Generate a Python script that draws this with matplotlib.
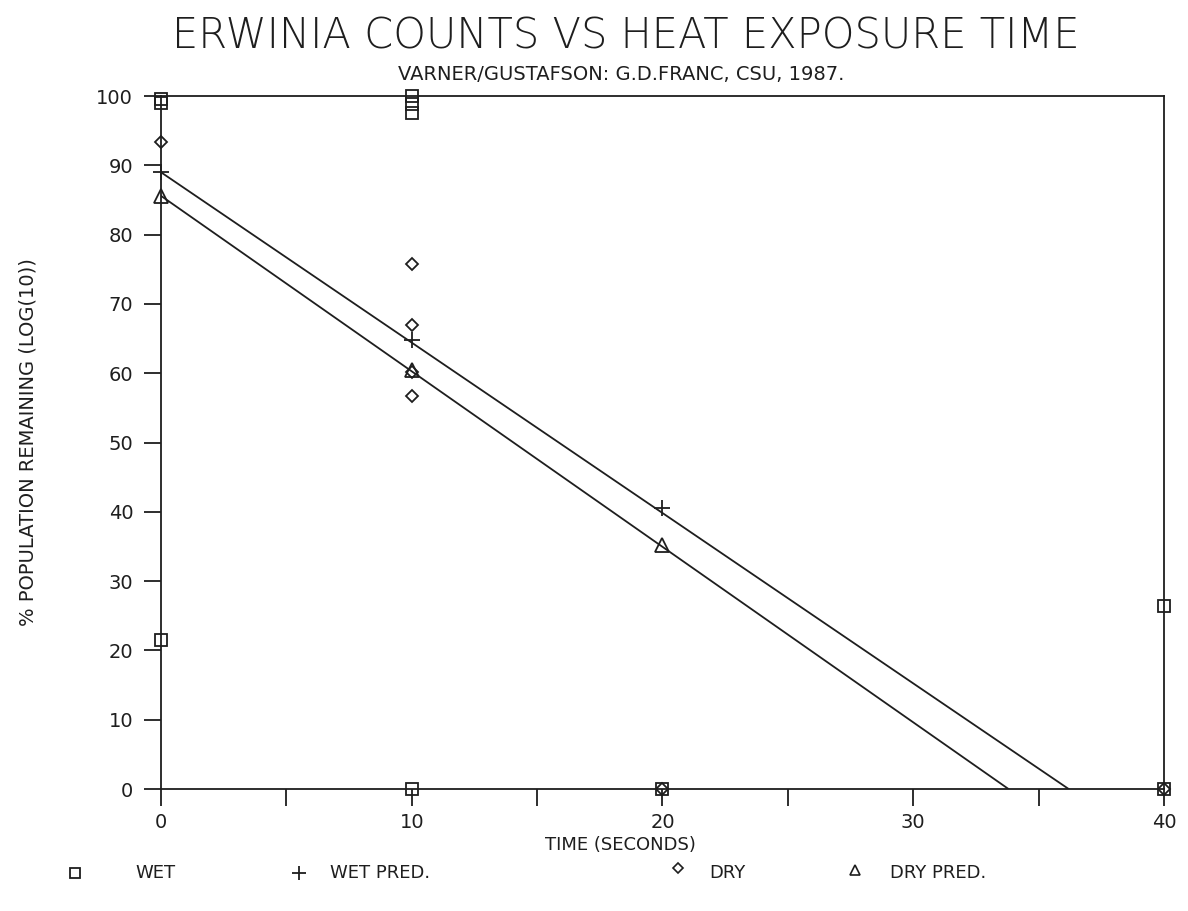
import matplotlib
matplotlib.use('Agg')
import matplotlib.pyplot as plt

# data
wet_x = [0, 0, 0, 10, 10, 10, 10, 20, 40, 40]
wet_y = [99.0, 99.6, 21.5, 100.0, 98.8, 97.6, 0, 0, 26.4, 0]

wet_pred_x = [0, 10, 20]
wet_pred_y = [89.0, 64.8, 40.5]

dry_x = [0, 10, 10, 10, 10, 20, 40]
dry_y = [93.4, 75.8, 67.0, 60.2, 56.7, 0, 0]

dry_pred_x = [0, 10, 20]
dry_pred_y = [85.6, 60.5, 35.2]

# fitted lines, end where they reach zero
wet_line_x = [0, 36.2]
wet_line_y = [89.0, 0]
dry_line_x = [0, 33.8]
dry_line_y = [85.6, 0]

x_ticks = [0, 10, 20, 30, 40]
x_minor = [5, 15, 25, 35]
y_ticks = [0, 10, 20, 30, 40, 50, 60, 70, 80, 90, 100]

ink = '#1e1e1e'

fig = plt.figure(figsize=(11.88, 9.11), dpi=100)
ax = fig.add_axes([0.1355, 0.1339, 0.8443, 0.7607])

ax.plot(wet_line_x, wet_line_y, color=ink, lw=1.3)
ax.plot(dry_line_x, dry_line_y, color=ink, lw=1.3)

ax.plot(wet_x, wet_y, ls='none', marker='s', ms=9, mfc='none', mec=ink, mew=1.3, clip_on=False)
ax.plot(wet_pred_x, wet_pred_y, ls='none', marker='+', ms=12, mec=ink, mew=1.3, clip_on=False)
ax.plot(dry_x, dry_y, ls='none', marker='D', ms=6.5, mfc='none', mec=ink, mew=1.3, clip_on=False)
ax.plot(dry_pred_x, dry_pred_y, ls='none', marker='^', ms=10, mfc='none', mec=ink, mew=1.3, clip_on=False)

ax.set_xlim(0, 40)
ax.set_ylim(0, 100)
ax.set_xticks(x_ticks)
ax.set_xticks(x_minor, minor=True)
ax.set_yticks(y_ticks)
ax.tick_params(axis='both', direction='out', length=12, width=1.3, color=ink,
               labelsize=14, labelcolor=ink)
ax.tick_params(axis='x', which='minor', direction='out', length=12, width=1.3, color=ink)
ax.tick_params(axis='x', pad=5)
ax.tick_params(axis='y', pad=8)
for s in ax.spines.values():
    s.set_color(ink)
    s.set_linewidth(1.3)

ax.set_ylabel('% POPULATION REMAINING (LOG(10))', fontsize=14, color=ink, labelpad=42)
fig.text(0.522, 0.072, 'TIME (SECONDS)', fontsize=13, color=ink, ha='center', va='center')

fig.text(0.527, 0.961, 'ERWINIA COUNTS VS HEAT EXPOSURE TIME', fontsize=30, fontweight='light',
         color=ink, ha='center', va='center')
fig.text(0.523, 0.918, 'VARNER/GUSTAFSON: G.D.FRANC, CSU, 1987.', fontsize=14,
         color=ink, ha='center', va='center')

# legend row along the bottom
leg_y = 0.042
fig.lines.append(plt.Line2D([0.063], [leg_y], transform=fig.transFigure, ls='none', marker='s',
                            ms=7, mfc='none', mec=ink, mew=1.3))
fig.text(0.114, leg_y, 'WET', fontsize=13, color=ink, va='center')
fig.lines.append(plt.Line2D([0.252], [leg_y], transform=fig.transFigure, ls='none', marker='+',
                            ms=10, mec=ink, mew=1.3))
fig.text(0.278, leg_y, 'WET PRED.', fontsize=13, color=ink, va='center')
fig.lines.append(plt.Line2D([0.571], [leg_y + 0.005], transform=fig.transFigure, ls='none', marker='D',
                            ms=5.5, mfc='none', mec=ink, mew=1.2))
fig.text(0.597, leg_y, 'DRY', fontsize=13, color=ink, va='center')
fig.lines.append(plt.Line2D([0.72], [leg_y + 0.003], transform=fig.transFigure, ls='none', marker='^',
                            ms=7, mfc='none', mec=ink, mew=1.2))
fig.text(0.749, leg_y, 'DRY PRED.', fontsize=13, color=ink, va='center')

fig.savefig('out.png', dpi=100, facecolor='white')
